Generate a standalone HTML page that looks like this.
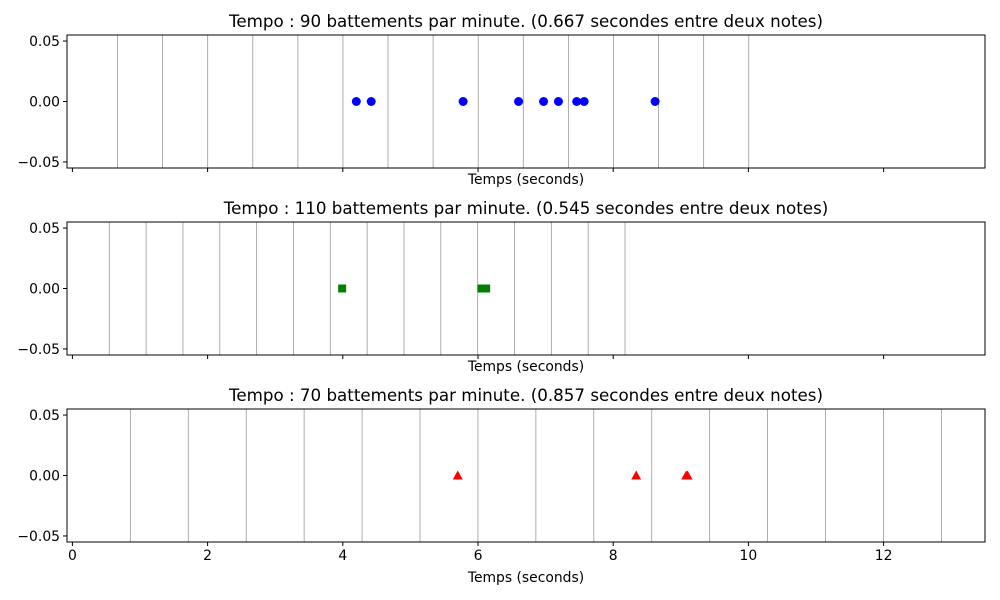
<!DOCTYPE html>
<html><head><meta charset="utf-8"><style>body{margin:0;background:#fff}svg{display:block;font-family:"DejaVu Sans","Liberation Sans",sans-serif}</style></head>
<body>
<svg id="chart" width="1000" height="600"></svg>
<script>
const titles = ["Tempo : 90 battements par minute. (0.667 secondes entre deux notes)","Tempo : 110 battements par minute. (0.545 secondes entre deux notes)","Tempo : 70 battements par minute. (0.857 secondes entre deux notes)"];
const beatIntervals = [0.667, 0.545, 0.857];
const beatCounts = [15, 15, 15];
const notes90 = [4.20, 4.42, 5.78, 6.60, 6.97, 7.19, 7.46, 7.57, 8.62];
const notes110 = [3.99, 6.05, 6.12];
const notes70 = [5.70, 8.34, 9.08, 9.10];
const xTicks = [0, 2, 4, 6, 8, 10, 12];
const yTicks = [0.05, 0.00, -0.05];
const yTickLabels = ["0.05", "0.00", "\u22120.05"];
const seriesNotes = [notes90, notes110, notes70];
const colors = ["#0000ff", "#008000", "#ff0000"];
const markers = ["circle", "square", "triangle"];
const panelTops = [35, 222, 409];
const NS = "http://www.w3.org/2000/svg";
const svg = document.getElementById("chart");
const L = 67, R = 985, H = 133, xmin = -0.08, xmax = 13.5, ymin = -0.055, ymax = 0.055;
const xs = v => L + (v - xmin) / (xmax - xmin) * (R - L);
function mk(tag, attrs, parent) { const e = document.createElementNS(NS, tag); for (const k in attrs) e.setAttribute(k, attrs[k]); (parent || svg).appendChild(e); return e; }
panelTops.forEach((top, p) => {
  const ys = v => top + (ymax - v) / (ymax - ymin) * H;
  const g = mk("g", {});
  
  
  for (let k = 1; k <= beatCounts[p]; k++) {
    const x = xs(k * beatIntervals[p]);
    const ln = mk("line", {x1: x, x2: x, y1: top, y2: top + H, stroke: "#999", "stroke-width": 0.8}, g);
    
    
  }
  seriesNotes[p].forEach(v => {
    const x = xs(v), y = ys(0);
    let m;
    if (markers[p] === "circle") m = mk("circle", {cx: x, cy: y, r: 4.5, fill: colors[p]}, g);
    else if (markers[p] === "square") m = mk("rect", {x: x - 4, y: y - 4, width: 8, height: 8, fill: colors[p]}, g);
    else m = mk("polygon", {points: `${x},${y-5} ${x-5},${y+4} ${x+5},${y+4}`, fill: colors[p]}, g);
    
    
  });
  const fr = mk("rect", {x: L, y: top, width: R - L, height: H, fill: "none", stroke: "#000", "stroke-width": 1}, g);
  
  
  yTicks.forEach((v, i) => {
    const y = ys(v);
    mk("line", {x1: L - 4, x2: L, y1: y, y2: y, stroke: "#000"}, g);
    const t = mk("text", {x: L - 7, y: y + 5, "text-anchor": "end", "font-size": 13.9}, g);
    t.textContent = yTickLabels[i];
    
    
  });
  xTicks.forEach(v => {
    const x = xs(v);
    mk("line", {x1: x, x2: x, y1: top + H, y2: top + H + 4, stroke: "#000"}, g);
    if (p === 2) {
      const t = mk("text", {x: x, y: top + H + 18, "text-anchor": "middle", "font-size": 13.9}, g);
      t.textContent = v;
      
      
    }
  });
  const xl = mk("text", {x: (L + R) / 2, y: top + H + (p === 2 ? 40 : 16), "text-anchor": "middle", "font-size": 13.9}, g);
  xl.textContent = "Temps (seconds)";
  
  
  const tt = mk("text", {x: (L + R) / 2, y: top - 8, "text-anchor": "middle", "font-size": 16.7}, g);
  tt.textContent = titles[p];
  
  
});
</script>
</body></html>
